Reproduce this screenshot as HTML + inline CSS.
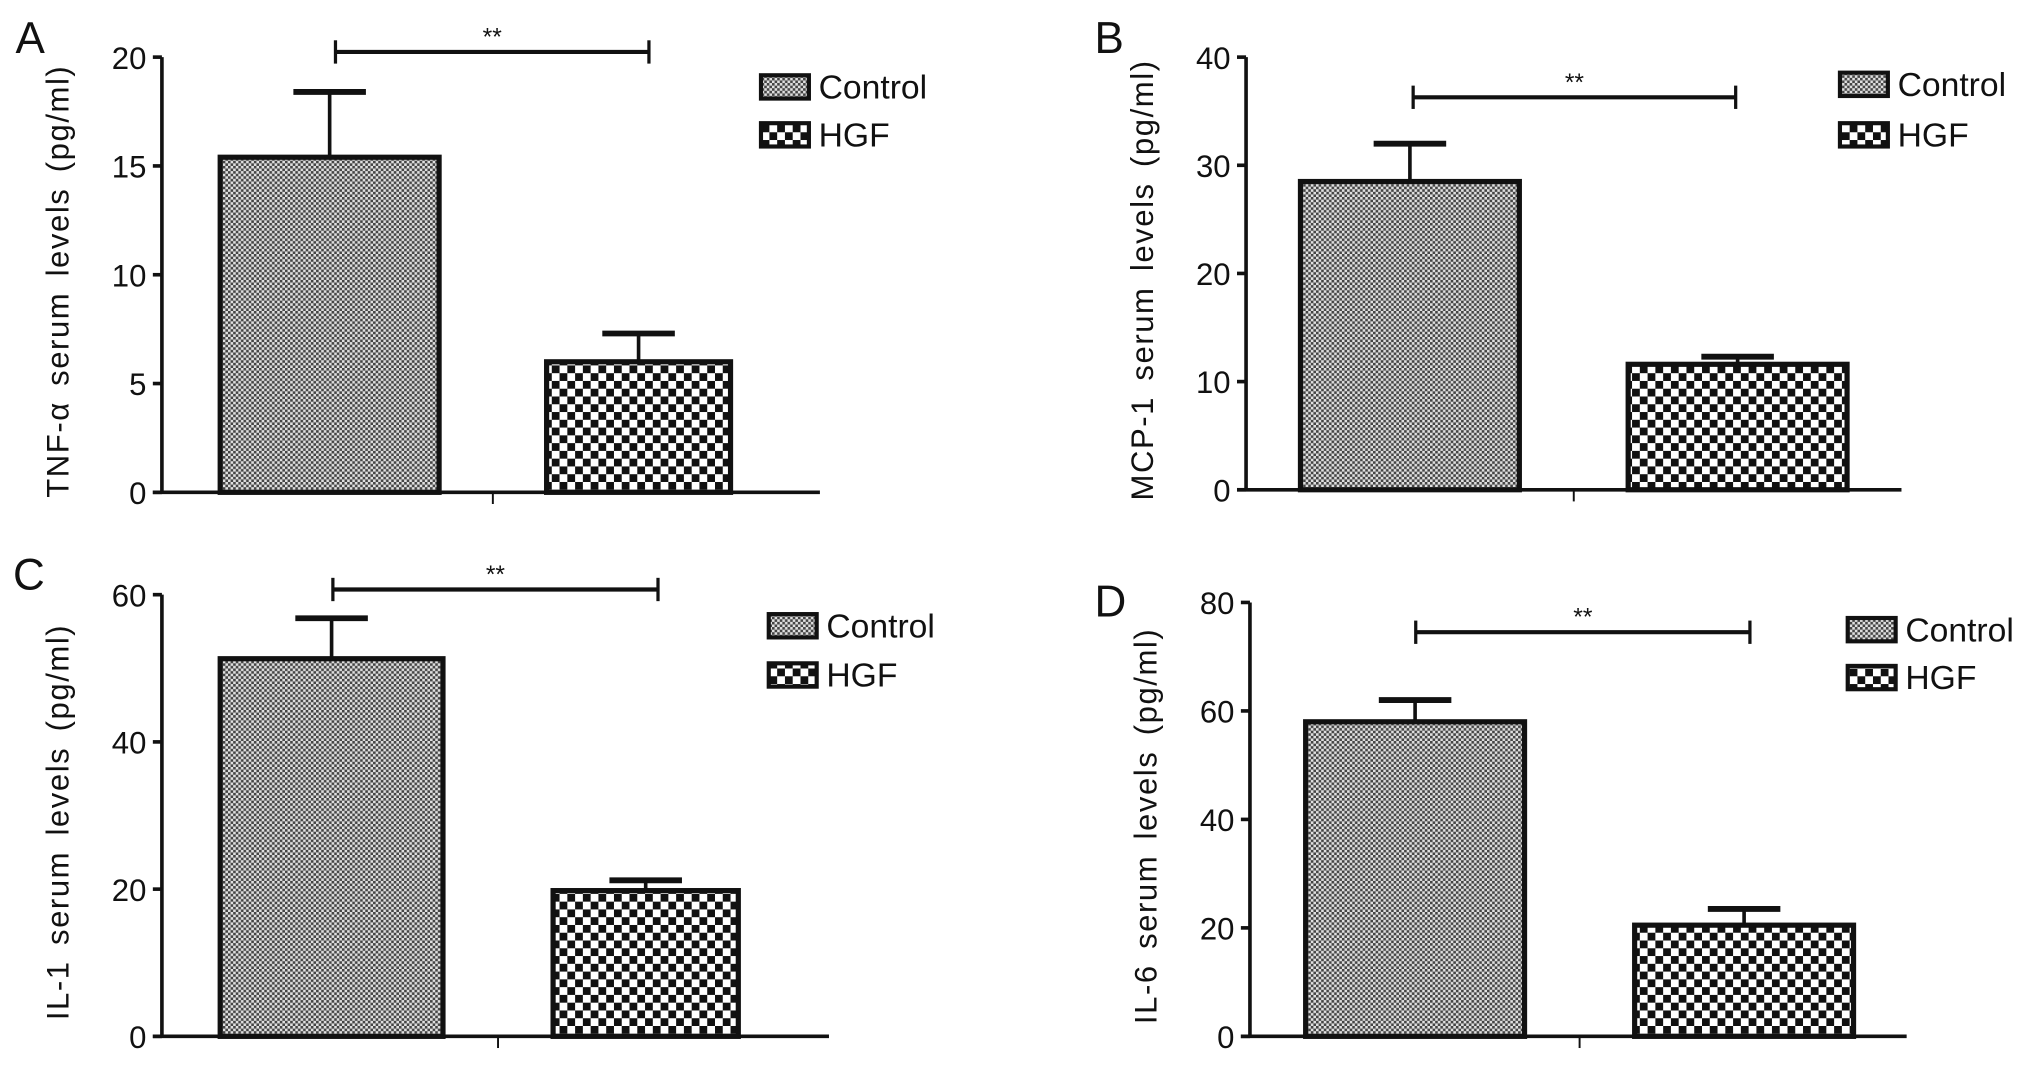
<!DOCTYPE html>
<html><head><meta charset="utf-8"><style>
html,body{margin:0;padding:0;background:#fff;}
svg{display:block;font-family:"Liberation Sans Narrow","Liberation Sans",sans-serif;}
</style></head><body>
<svg id="fig" width="2031" height="1065" viewBox="0 0 1568 822" xmlns="http://www.w3.org/2000/svg">
<defs>
<pattern id="pCtrl" width="4" height="4" patternUnits="userSpaceOnUse">
<rect width="4" height="4" fill="#e0e0e0"/><rect width="2" height="2" fill="#444"/><rect x="2" y="2" width="2" height="2" fill="#444"/>
</pattern>
<pattern id="pHgf" width="12" height="12" patternUnits="userSpaceOnUse">
<rect width="12" height="12" fill="#fff"/><rect width="6" height="6" fill="#111"/><rect x="6" y="6" width="6" height="6" fill="#111"/>
</pattern>
</defs>
</svg>
<script>
const panelLetters = ["A","B","C","D"];
const yTitles = ["TNF-\u03b1 serum levels (pg/ml)","MCP-1 serum levels (pg/ml)","IL-1 serum levels (pg/ml)","IL-6 serum levels (pg/ml)"];
const yMaxes = [20, 40, 60, 80];
const yTickLabels = [["0","5","10","15","20"],["0","10","20","30","40"],["0","20","40","60"],["0","20","40","60","80"]];
const groups = ["Control","HGF"];
const controlValues = [15.4, 28.5, 51.3, 58.0];
const controlErrors = [3.0, 3.5, 5.5, 4.0];
const hgfValues = [6.0, 11.6, 19.8, 20.5];
const hgfErrors = [1.3, 0.7, 1.4, 3.0];

const layouts = [
  {ax:125, y0:380, yTop:44, bars:[[170,339],[422,564]], xEnd:633, leg:[586,67,104], sig:[259,501,40], lbl:[12,28]},
  {ax:962, y0:378, yTop:44, bars:[[1004,1173],[1257,1426]], xEnd:1468, leg:[1419,65,104], sig:[1091,1340,75], lbl:[845,28]},
  {ax:125, y0:800, yTop:459, bars:[[170,342],[427,570]], xEnd:640, leg:[592,483,521], sig:[257,508,455], lbl:[10,442]},
  {ax:965, y0:800, yTop:465, bars:[[1008,1177],[1262,1431]], xEnd:1472, leg:[1425,486,523], sig:[1093,1351,488], lbl:[845,463]}
];
const svg = document.getElementById('fig');
const NS = 'http://www.w3.org/2000/svg';
function mk(tag, attrs, parent){
  const e = document.createElementNS(NS, tag);
  for (const k in attrs) e.setAttribute(k, attrs[k]);
  (parent||svg).appendChild(e); return e;
}
for (let p=0;p<4;p++){
  const L = layouts[p];
  const g = mk('g',{});
  
  
  const topVal = Number(yTickLabels[p][yTickLabels[p].length-1]);
  const yS = v => L.y0 - (v/topVal)*(L.y0-L.yTop);
  const lw = 2.8;
  const lt = mk('text',{x:L.lbl[0], y:L.lbl[1]+13, 'font-size':34, fill:'#111'}, g);
  lt.textContent = panelLetters[p];
  
  
  const ya = mk('line',{x1:L.ax, y1:L.yTop, x2:L.ax, y2:L.y0, stroke:'#111','stroke-width':lw}, g);
  
  
  yTickLabels[p].forEach(t=>{
    const y = yS(Number(t));
    mk('line',{x1:L.ax-7, y1:y, x2:L.ax, y2:y, stroke:'#111','stroke-width':lw}, g);
    const tx = mk('text',{x:L.ax-12, y:y+9, 'font-size':24, 'text-anchor':'end', fill:'#111'}, g);
    tx.textContent = t;
    
    
  });
  const xa = mk('line',{x1:L.ax-7, y1:L.y0, x2:L.xEnd, y2:L.y0, stroke:'#111','stroke-width':lw}, g);
  
  
  const mid = (L.bars[0][1]+L.bars[1][0])/2;
  mk('line',{x1:mid, y1:L.y0, x2:mid, y2:L.y0+9, stroke:'#111','stroke-width':1.5}, g);
  const cy = (L.yTop+L.y0)/2 + 5;
  const tx = L.ax-72;
  const yt = mk('text',{x:tx, y:cy, 'font-size':24, 'letter-spacing':1.2, 'word-spacing':4, 'text-anchor':'middle', fill:'#111', transform:`rotate(-90 ${tx} ${cy})`}, g);
  yt.textContent = yTitles[p];
  
  
  const vals = [controlValues[p], hgfValues[p]];
  const errs = [controlErrors[p], hgfErrors[p]];
  const fills = ['url(#pCtrl)','url(#pHgf)'];
  for (let b=0;b<2;b++){
    const [x0,x1] = L.bars[b];
    const yv = yS(vals[b]);
    const cx = (x0+x1)/2;
    const ye = yS(vals[b]+errs[b]);
    const el = mk('line',{x1:cx, y1:ye, x2:cx, y2:yv, stroke:'#111','stroke-width':lw}, g);
    
    
    mk('line',{x1:cx-28, y1:ye, x2:cx+28, y2:ye, stroke:'#111','stroke-width':4.5}, g);
    const r = mk('rect',{x:x0, y:yv, width:x1-x0, height:L.y0-yv, fill:fills[b], stroke:'#111','stroke-width':4}, g);
    
    
  }
  const [s0,s1,sy] = L.sig;
  const sg = mk('g',{}, g);
  
  
  mk('line',{x1:s0, y1:sy, x2:s1, y2:sy, stroke:'#111','stroke-width':3.2}, sg);
  mk('line',{x1:s0, y1:sy-9, x2:s0, y2:sy+9, stroke:'#111','stroke-width':2.5}, sg);
  mk('line',{x1:s1, y1:sy-9, x2:s1, y2:sy+9, stroke:'#111','stroke-width':2.5}, sg);
  const st = mk('text',{x:(s0+s1)/2, y:sy-5, 'font-size':19, 'text-anchor':'middle', fill:'#111'}, sg);
  st.textContent = '**';
  const [lx, ly1, ly2] = L.leg;
  [ly1, ly2].forEach((ly,i)=>{
    const lg = mk('g',{}, g);
    
    
    mk('rect',{x:lx+1.5, y:ly-9, width:37, height:18, fill:fills[i], stroke:'#111','stroke-width':3.2}, lg);
    const t = mk('text',{x:lx+46, y:ly+9, 'font-size':26, fill:'#111'}, lg);
    t.textContent = groups[i];
  });
}
</script>
</body></html>
